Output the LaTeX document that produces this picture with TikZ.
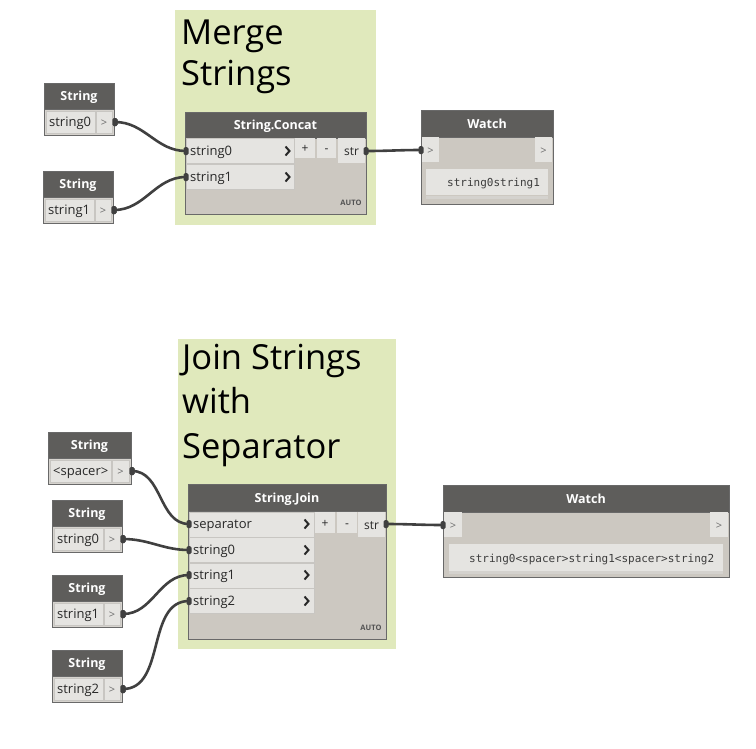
\documentclass[tikz,border=0pt]{standalone}
\usepackage{fontspec}
\setmainfont{Open Sans}
\newfontfamily\monof{DejaVu Sans Mono}
\usetikzlibrary{calc}
\definecolor{grpc}{RGB}{224,233,188}
\definecolor{hdrc}{RGB}{94,93,91}
\definecolor{bodyc}{RGB}{204,200,193}
\definecolor{sbodyc}{RGB}{214,211,206}
\definecolor{cellc}{RGB}{229,228,225}
\definecolor{celll}{RGB}{200,198,194}
\definecolor{bordc}{RGB}{105,105,105}
\definecolor{wirec}{RGB}{64,64,64}
\definecolor{txtc}{RGB}{40,40,40}
\definecolor{gtxc}{RGB}{110,110,110}
\definecolor{linec}{RGB}{212,210,206}
\tikzset{
  frame/.style={fill=bodyc, draw=bordc, line width=0.8pt},
  sframe/.style={fill=sbodyc, draw=bordc, line width=0.8pt},
  hdr/.style={fill=hdrc, draw=bordc, line width=0.8pt},
  cell/.style={fill=cellc, draw=celll, line width=0.7pt},
  rowc/.style={fill=cellc, draw=celll, line width=0.7pt},
  btn/.style={fill=cellc},
  grp/.style={fill=grpc},
  mid/.style={text height=12pt, text depth=3pt},
  hdrtxt/.style={mid, text=white, font=\fontsize{12.5}{15}\selectfont\bfseries, inner sep=0pt},
  lbl/.style={mid, text=txtc, font=\fontsize{13}{15}\selectfont, inner sep=0pt, anchor=west},
  btxt/.style={mid, text=txtc, font=\fontsize{12}{14}\selectfont, inner sep=0pt},
  gtx/.style={mid, text=gtxc, font=\fontsize{11}{13}\selectfont, inner sep=0pt},
  autotxt/.style={text=txtc!80, font=\fontsize{7.5}{9}\selectfont\bfseries, inner sep=0pt},
  mono/.style={text height=10.5pt, text depth=2.5pt, text=txtc!90, font=\monof\fontsize{11}{13}\selectfont, inner sep=0pt, anchor=west},
  ttl/.style={text=black, font=\fontsize{34.5}{40}\selectfont, inner sep=0pt, anchor=base west},
  port/.style={fill=wirec, rounded corners=1.5pt, minimum width=5pt, minimum height=8pt, inner sep=0pt},
  wire/.style={draw=wirec, line width=2.6pt},
  chevst/.style={draw=txtc, line width=2pt},
}
\newcommand{\mkbox}[6][]{\node[anchor=north west, inner sep=0pt, outer sep=0pt, minimum width={(#5)*1pt}, minimum height={(#6)*1pt}, #1] (#2) at (#3,#4) {};}
\newcommand{\chevron}[2]{\draw[chevst] (#1-2.5,#2-4.5) -- (#1+1.5,#2) -- (#1-2.5,#2+4.5);}
\newcommand{\strnode}[6]{%
  \mkbox[sframe]{#1}{#2}{#3}{#4}{52}
  \mkbox[hdr]{#1h}{#2}{#3}{#4}{26}
  \node[hdrtxt] (#1t) at (#1h.center) {String};
  \mkbox[cell]{#1c}{#2+2}{#3+28}{#5-2}{22}
  \mkbox[cell]{#1o}{#2+#5+1}{#3+28}{#4-#5-3}{22}
  \node[lbl] (#1l) at ([xshift=3pt]#1c.west) {#6};
  \node[gtx] (#1g) at (#1o.center) {>};
  \node[port] (#1p) at (#2+#4+1,#3+39) {};
}
\begin{document}
\begin{tikzpicture}[x=1pt,y=-1pt]
\useasboundingbox (0,0) rectangle (756,748);
\fill[white] (0,0) rectangle (756,748);

% ---------- groups ----------
\mkbox[grp]{g1}{175}{10}{201}{215}
\node[ttl] (g1a) at (181,44) {Merge};
\node[ttl] (g1b) at (181,85) {Strings};
\mkbox[grp]{g2}{178}{339}{218}{310}
\node[ttl] (g2a) at (182,369) {Join Strings};
\node[ttl] (g2b) at (182,413) {with};
\node[ttl] (g2c) at (182,458) {Separator};

% ---------- String inputs ----------
\strnode{sa}{44}{83}{70}{51}{string0}
\strnode{sb}{43}{171}{70}{51}{string1}
\strnode{sc}{48}{432}{83}{63}{<spacer>}
\strnode{sd}{52}{500}{70}{51}{string0}
\strnode{se}{52}{575}{70}{51}{string1}
\strnode{sf}{52}{650}{70}{51}{string2}

% ---------- String.Concat ----------
\mkbox[frame]{cc}{185}{112}{181}{102}
\mkbox[hdr]{cch}{185}{112}{181}{26}
\node[hdrtxt] (cct) at (cch.center) {String.Concat};
\mkbox[rowc]{cc1}{186}{138}{108}{25}
\mkbox[rowc]{cc2}{186}{164}{108}{25}
\node[lbl] (cc1l) at (190,151) {string0};
\node[lbl] (cc2l) at (190,177) {string1};
\chevron{288}{151}
\chevron{288}{177}
\mkbox[btn]{ccplus}{295}{138}{20}{20}
\node[btxt] at (ccplus.center) {+};
\mkbox[btn]{ccminus}{317}{138}{19}{20}
\node[btxt] at (ccminus.center) {-};
\mkbox[btn]{ccout}{338}{138}{27}{25}
\node[btxt] at (ccout.center) {str};
\node[autotxt] (cca) at (351,203) {AUTO};

% ---------- Watch 1 ----------
\mkbox[frame]{wa}{421}{110}{132}{94}
\mkbox[hdr]{wah}{421}{110}{132}{27}
\node[hdrtxt] (wat) at (wah.center) {Watch};
\mkbox[btn]{wai}{422}{137}{17}{25}
\node[gtx] at (wai.center) {>};
\mkbox[btn]{wao}{535}{137}{17}{25}
\node[gtx] at (wao.center) {>};
\mkbox[btn]{wab}{426}{169}{122}{26}
\mkbox[fill=linec]{wau}{426}{196}{122}{3}
\node[mono] (wav) at (447,182) {string0string1};

% ---------- String.Join ----------
\mkbox[frame]{sj}{188}{484}{198}{155}
\mkbox[hdr]{sjh}{188}{484}{198}{27}
\node[hdrtxt] (sjt) at (sjh.center) {String.Join};
\mkbox[rowc]{sj1}{189}{512}{125}{25}
\mkbox[rowc]{sj2}{189}{537}{125}{25}
\mkbox[rowc]{sj3}{189}{563}{125}{25}
\mkbox[rowc]{sj4}{189}{588}{125}{25}
\node[lbl] at (193,524) {separator};
\node[lbl] at (193,550) {string0};
\node[lbl] at (193,575) {string1};
\node[lbl] at (193,601) {string2};
\chevron{307}{524}
\chevron{307}{550}
\chevron{307}{575}
\chevron{307}{601}
\mkbox[btn]{sjplus}{315}{512}{20}{21}
\node[btxt] at (sjplus.center) {+};
\mkbox[btn]{sjminus}{337}{512}{20}{21}
\node[btxt] at (sjminus.center) {-};
\mkbox[btn]{sjout}{358}{512}{27}{25}
\node[btxt] at (sjout.center) {str};
\node[autotxt] (sja) at (371,628) {AUTO};

% ---------- Watch 2 ----------
\mkbox[frame]{wb}{443}{485}{286}{92}
\mkbox[hdr]{wbh}{443}{485}{286}{27}
\node[hdrtxt] (wbt) at (wbh.center) {Watch};
\mkbox[btn]{wbi}{444}{512}{18}{25}
\node[gtx] at (wbi.center) {>};
\mkbox[btn]{wbo}{710}{512}{18}{25}
\node[gtx] at (wbo.center) {>};
\mkbox[btn]{wbb}{449}{544}{274}{27}
\mkbox[fill=linec]{wbu}{449}{571}{274}{3}
\node[mono] (wbv) at (469,558) {string0<spacer>string1<spacer>string2};

% ---------- wires ----------
\coordinate (cci1) at (186,151);
\coordinate (cci2) at (186,177);
\coordinate (cco) at (366,151);
\coordinate (wain) at (421,150);
\coordinate (sji1) at (189,524);
\coordinate (sji2) at (189,550);
\coordinate (sji3) at (189,575);
\coordinate (sji4) at (189,601);
\coordinate (sjo) at (386,524);
\coordinate (wbin) at (443,525);

\draw[wire] (sap.center) to[out=0,in=180] (cci1);
\draw[wire] (sbp.center) to[out=0,in=180] (cci2);
\draw[wire] (cco) to[out=0,in=180] (wain);
\draw[wire] (scp.center) to[out=0,in=180] (sji1);
\draw[wire] (sdp.center) to[out=0,in=180] (sji2);
\draw[wire] (sep.center) to[out=0,in=180] (sji3);
\draw[wire] (sfp.center) to[out=0,in=180] (sji4);
\draw[wire] (sjo) to[out=0,in=180] (wbin);

\foreach \p in {cci1,cci2,cco,wain,sji1,sji2,sji3,sji4,sjo,wbin}
  \node[port] at (\p) {};
\foreach \p in {sap,sbp,scp,sdp,sep,sfp}
  \node[port] at (\p) {};
\end{tikzpicture}
\end{document}
